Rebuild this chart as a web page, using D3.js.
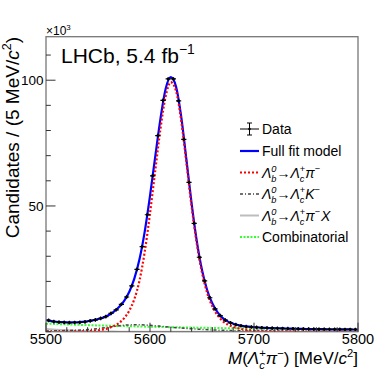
<!DOCTYPE html>
<html><head><meta charset="utf-8">
<script src="https://cdn.jsdelivr.net/npm/d3@7"></script>
<style>
html,body{margin:0;padding:0;background:#fff;}
text{font-family:"Liberation Sans",Arial,Helvetica,sans-serif;fill:#000;}
</style></head>
<body><svg id="c" width="381" height="370"></svg>
<script>
// ---- data (values in units of 10^3 candidates) ----
const binCenters = [5502.5,5507.5,5512.5,5517.5,5522.5,5527.5,5532.5,5537.5,5542.5,5547.5,
 5552.5,5557.5,5562.5,5567.5,5572.5,5577.5,5582.5,5587.5,5592.5,5597.5,
 5602.5,5607.5,5612.5,5617.5,5622.5,5627.5,5632.5,5637.5,5642.5,5647.5,
 5652.5,5657.5,5662.5,5667.5,5672.5,5677.5,5682.5,5687.5,5692.5,5697.5,
 5702.5,5707.5,5712.5,5717.5,5722.5,5727.5,5732.5,5737.5,5742.5,5747.5,
 5752.5,5757.5,5762.5,5767.5,5772.5,5777.5,5782.5,5787.5,5792.5,5797.5];
const dataCounts = [4.5,4.0,3.8,3.7,3.6,3.65,3.7,3.9,4.3,4.7,
 5.3,6.0,7.3,8.7,10.9,13.8,18.2,24.8,33.8,46.5,
 62.0,78.0,92.0,100.5,100.5,91.8,76.5,59.4,43.1,29.6,
 20.2,13.5,9.1,6.4,4.6,3.5,2.8,2.35,2.05,1.85,
 1.7,1.6,1.5,1.42,1.36,1.3,1.25,1.2,1.15,1.1,
 1.07,1.04,1.0,0.99,0.96,0.95,0.93,0.9,0.89,0.87];

const modelMass = [5500,5505,5510,5515,5520,5525,5530,5535,5540,5545,5550,5555,5560,5565,5570,5575,
 5580,5585,5590,5595,5600,5605,5610,5615,5620,5625,5630,5635,5640,5645,5650,5655,5660,5665,5670,
 5675,5680,5685,5690,5695,5700,5705,5710,5715,5720,5725,5730,5735,5740,5745,5750,5755,5760,5765,
 5770,5775,5780,5785,5790,5795,5800];
const fullModel = [4.6,4.2,3.95,3.8,3.7,3.68,3.72,3.88,4.15,4.55,5.0,5.6,6.55,7.85,9.7,12.2,
 15.8,21.2,29.0,40.0,54.0,69.5,84.5,96.5,101.2,97.5,85.5,68.5,51.0,36.0,24.5,16.5,11.2,7.7,5.4,
 4.0,3.15,2.6,2.25,2.0,1.8,1.66,1.55,1.46,1.39,1.33,1.27,1.22,1.17,1.12,1.08,1.05,1.03,1.0,
 0.98,0.96,0.94,0.92,0.9,0.88,0.86];
const sigPi = [0.02,0.03,0.04,0.05,0.07,0.09,0.12,0.17,0.25,0.38,0.58,0.9,1.4,2.2,3.4,5.3,
 8.3,13.0,20.5,32.0,47.0,64.0,80.5,93.5,99.2,95.8,84.0,67.2,49.8,35.0,23.5,15.4,10.0,6.5,4.2,
 2.8,1.9,1.3,0.9,0.65,0.48,0.36,0.28,0.22,0.18,0.15,0.12,0.1,0.09,0.08,0.07,0.06,0.05,0.05,
 0.04,0.04,0.03,0.03,0.03,0.02,0.02];

const kMass = [5500,5510,5520,5530,5540,5550,5560,5570,5580,5590,5600,5610,5620,5630,5640,5650,
 5660,5670,5680,5690,5700,5710,5720,5730,5740,5750,5760,5770,5780,5790,5800];
const misidK = [0.3,0.35,0.45,0.6,0.85,1.25,1.8,2.35,2.7,2.75,2.55,2.2,1.8,1.45,1.15,0.9,
 0.7,0.55,0.43,0.34,0.27,0.22,0.18,0.15,0.12,0.1,0.08,0.07,0.06,0.05,0.04];

const partMass = [5500,5510,5520,5530,5540,5550,5560,5570,5580,5590,5600,5650,5700,5750,5800];
const partReco = [1.1,0.8,0.55,0.35,0.2,0.1,0.05,0.02,0.01,0,0,0,0,0,0];

const combMass = [5500,5525,5550,5575,5600,5625,5650,5675,5700,5725,5750,5775,5800];
const combinatorial = [3.2,2.82,2.5,2.22,1.97,1.75,1.56,1.39,1.24,1.1,0.97,0.86,0.76];

const xTicks = [5500,5600,5700,5800];
const yTicks = [50,100];

// ---- layout ----
const svg = d3.select("#c");
const L=46, R=358, T=36.7, B=331.7;
const x = d3.scaleLinear().domain([5500,5800]).range([L,R]);
const y = d3.scaleLinear().domain([0,117.3]).range([B,T]);

// rich text helper: parts laid out left-to-right, each its own text element
function rich(parent, px, py, parts, size, anchor, rotate){
  const g = parent.append("g");
  let cx = 0, prevStart = 0, prevW = 0;
  parts.forEach(p=>{
    const s = p.script ? size*0.66 : size;
    let dy = 0;
    if (p.script==="sup") dy = -size*0.42;
    if (p.script==="sub") dy = size*0.30;
    const t = g.append("text").attr("y", dy).style("font-size", s+"px")
      .style("font-style", p.it ? "italic" : "normal").text(p.t);
    const w = t.node().getComputedTextLength();
    if (p.stack){
      t.attr("x", prevStart);
      cx = Math.max(prevStart+prevW, prevStart+w) + (p.gap||0);
    } else {
      t.attr("x", cx + (p.pre||0));
      prevStart = cx + (p.pre||0); prevW = w;
      cx = prevStart + w + (p.gap||0);
    }
  });
  const off = anchor==="end" ? -cx : (anchor==="middle" ? -cx/2 : 0);
  g.attr("transform", `translate(${px},${py})` + (rotate?` rotate(${rotate})`:"") + ` translate(${off},0)`);
  return g;
}

// clip
svg.append("clipPath").attr("id","clip").append("rect")
  .attr("x",L).attr("y",T).attr("width",R-L).attr("height",B-T);

const line = (xs)=> d3.line().x((d,i)=>x(xs[i])).y(d=>y(d)).curve(d3.curveMonotoneX);
const plot = svg.append("g").attr("clip-path","url(#clip)");

plot.append("path").datum(combinatorial).attr("d", line(combMass))
  .attr("fill","none").attr("stroke","#33ff33").attr("stroke-width",2).attr("stroke-dasharray","2,1.5");
plot.append("path").datum(partReco).attr("d", line(partMass))
  .attr("fill","none").attr("stroke","#bdbdbd").attr("stroke-width",2);
plot.append("path").datum(misidK).attr("d", line(kMass))
  .attr("fill","none").attr("stroke","#444").attr("stroke-width",1.5).attr("stroke-dasharray","3,2,1,2");
plot.append("path").datum(fullModel).attr("d", line(modelMass))
  .attr("fill","none").attr("stroke","#0000ff").attr("stroke-width",2.2);
plot.append("path").datum(sigPi).attr("d", line(modelMass))
  .attr("fill","none").attr("stroke","#ff0000").attr("stroke-width",2.2).attr("stroke-dasharray","2,2");

// data points
const pts = plot.append("g");
binCenters.forEach((m,i)=>{
  const v = dataCounts[i], yy = y(v);
  pts.append("line").attr("x1",x(m-2.5)).attr("x2",x(m+2.5)).attr("y1",yy).attr("y2",yy)
    .attr("stroke","#000").attr("stroke-width",1.2);
  const e = Math.sqrt(v*1000)/1000;
  pts.append("line").attr("x1",x(m)).attr("x2",x(m)).attr("y1",Math.min(y(v+e),yy-1.8)).attr("y2",Math.max(y(v-e),yy+1.8))
    .attr("stroke","#000").attr("stroke-width",1.2);
  pts.append("circle").attr("cx",x(m)).attr("cy",yy).attr("r",1.4).attr("fill","#000");
});

// frame
svg.append("rect").attr("x",L).attr("y",T).attr("width",R-L).attr("height",B-T)
  .attr("fill","none").attr("stroke","#777").attr("stroke-width",1.3);

// axes ticks
const tickG = svg.append("g").attr("stroke","#333").attr("stroke-width",1);
d3.range(5500,5801,20).forEach(v=>{
  const major = xTicks.includes(v);
  tickG.append("line").attr("x1",x(v)).attr("x2",x(v)).attr("y1",B).attr("y2",B-(major?9:4.5));
});
d3.range(0,117,10).forEach(v=>{
  const major = yTicks.includes(v);
  tickG.append("line").attr("x1",L).attr("x2",L+(major?9.5:4.8)).attr("y1",y(v)).attr("y2",y(v));
});
xTicks.forEach(v=>{
  svg.append("text").attr("x",x(v)).attr("y",343.5).attr("text-anchor","middle")
    .style("font-size","14.5px").text(v);
});
yTicks.forEach(v=>{
  svg.append("text").attr("x",L-2.5).attr("y",y(v)+5).attr("text-anchor","end")
    .style("font-size","13.5px").text(v);
});

// x10^3
rich(svg, 46, 35, [{t:"\u00d710"},{t:"3",script:"sup"}], 12, "start");

// LHCb label
rich(svg, 61, 63, [{t:"LHCb, 5.4 fb"},{t:"\u22121",script:"sup"}], 21, "start");

// axis titles
rich(svg, 358, 364, [{t:"M",it:true},{t:"("},{t:"\u039b",it:true},{t:"+",script:"sup"},{t:"c",it:true,script:"sub",stack:true},
  {t:"\u03c0",it:true},{t:"\u2212",script:"sup"},{t:") [MeV/"},{t:"c",it:true},{t:"2",script:"sup"},{t:"]"}], 17, "end");
rich(svg, 19, 37, [{t:"Candidates / (5 MeV/"},{t:"c",it:true},{t:"2",script:"sup"},{t:")"}], 19, "end", -90);

// legend
const lx1=240, lx2=259, tx=262;
const rows=[129,151,172.5,194,215.5,237];
const lg = svg.append("g");
// Data
lg.append("line").attr("x1",lx1).attr("x2",lx2).attr("y1",rows[0]).attr("y2",rows[0]).attr("stroke","#000").attr("stroke-width",1);
lg.append("line").attr("x1",(lx1+lx2)/2).attr("x2",(lx1+lx2)/2).attr("y1",rows[0]-6).attr("y2",rows[0]+6).attr("stroke","#000").attr("stroke-width",1);
[-6,6].forEach(d=>lg.append("line").attr("x1",(lx1+lx2)/2-2.5).attr("x2",(lx1+lx2)/2+2.5).attr("y1",rows[0]+d).attr("y2",rows[0]+d).attr("stroke","#000").attr("stroke-width",1));
lg.append("circle").attr("cx",(lx1+lx2)/2).attr("cy",rows[0]).attr("r",1.3).attr("fill","#000");
const legStyles=[null,
 {c:"#0000ff",w:2.2,d:null},
 {c:"#ff0000",w:2.2,d:"2,2"},
 {c:"#444",w:1.5,d:"3,2,1,2"},
 {c:"#bdbdbd",w:2,d:null},
 {c:"#33ff33",w:2,d:"2,1.5"}];
legStyles.forEach((s,i)=>{
  if(!s) return;
  const l = lg.append("line").attr("x1",lx1).attr("x2",lx2).attr("y1",rows[i]).attr("y2",rows[i])
    .attr("stroke",s.c).attr("stroke-width",s.w);
  if(s.d) l.attr("stroke-dasharray",s.d);
});
const fs=14, base=5;
rich(lg, tx, rows[0]+base, [{t:"Data"}], fs, "start");
rich(lg, tx, rows[1]+base, [{t:"Full fit model"}], fs, "start");
const lb = [{t:"\u039b",it:true},{t:"0",it:true,script:"sup"},{t:"b",it:true,script:"sub",stack:true},{t:"\u2192"},
  {t:"\u039b",it:true},{t:"+",script:"sup"},{t:"c",it:true,script:"sub",stack:true}];
rich(lg, tx, rows[2]+base, lb.concat([{t:"\u03c0",it:true},{t:"\u2212",script:"sup"}]), fs, "start");
rich(lg, tx, rows[3]+base, lb.concat([{t:"K",it:true},{t:"\u2212",script:"sup"}]), fs, "start");
rich(lg, tx, rows[4]+base, lb.concat([{t:"\u03c0",it:true},{t:"\u2212",script:"sup"},{t:"X",it:true,pre:1}]), fs, "start");
rich(lg, tx, rows[5]+base, [{t:"Combinatorial"}], fs, "start");
</script></body></html>
